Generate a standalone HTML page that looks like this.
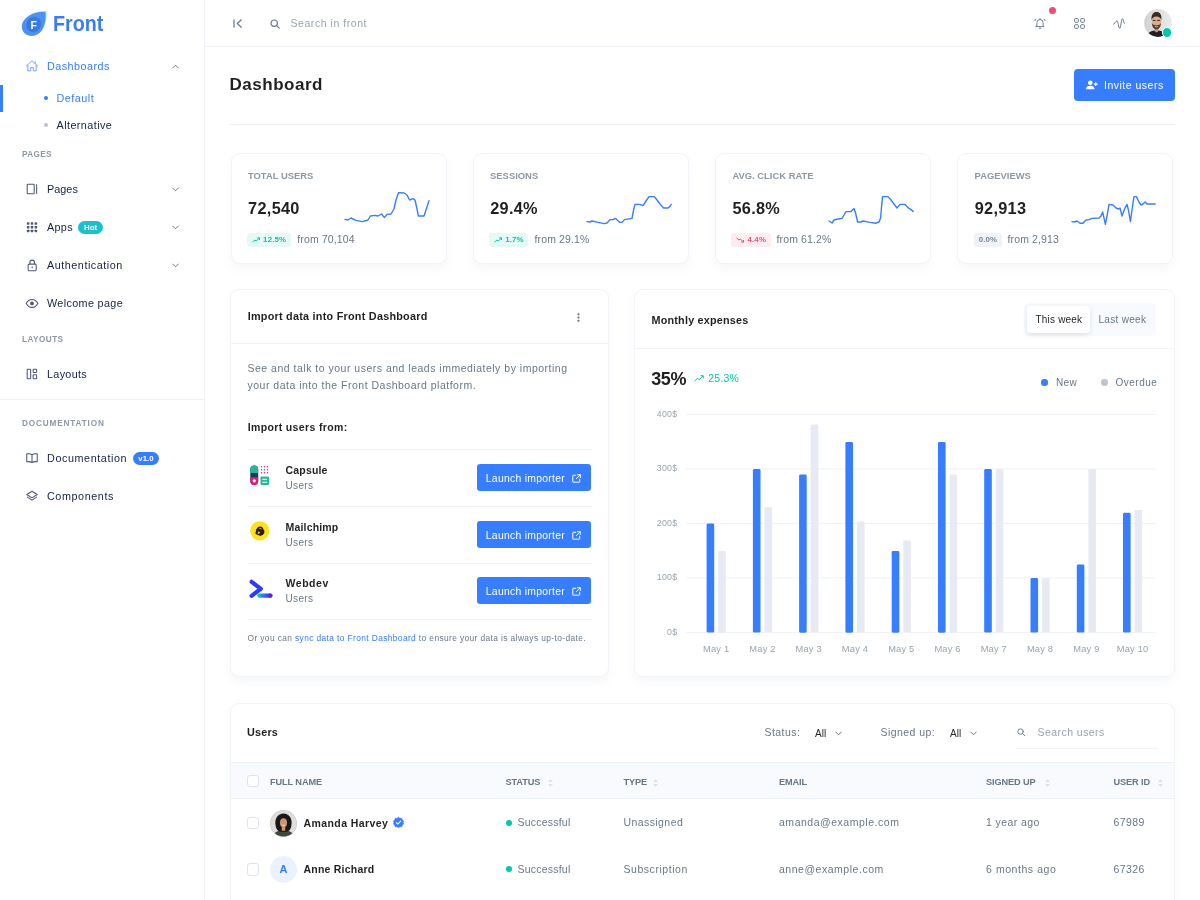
<!DOCTYPE html>
<html lang="en">
<head>
<meta charset="utf-8">
<title>Dashboard | Front - Admin &amp; Dashboard Template</title>
<style>
*{box-sizing:border-box}
html,body{margin:0;padding:0}
body{width:1200px;height:900px;overflow:hidden;background:#fff;font-family:"Liberation Sans",sans-serif;font-size:10.5px;color:#677788;position:relative;letter-spacing:.2px}
.a{position:absolute;white-space:nowrap}
svg{display:block;overflow:visible}
/* sidebar */
#aside{position:absolute;left:0;top:0;width:204.5px;height:900px;border-right:1px solid #f0f2f7;background:#fff}
.nl{position:absolute;left:47px;height:16px;line-height:16px;color:#132144;font-size:10.8px;white-space:nowrap}
.ni{position:absolute;left:25px;width:14px;height:14px;color:#132144;opacity:.75}
.sub{position:absolute;left:22px;font-size:8.2px;letter-spacing:.45px;color:#8c98a4;font-weight:bold;text-transform:uppercase;line-height:10px;height:10px}
.chev{position:absolute;left:171.5px;width:7px;height:5px}
.badge{display:inline-block;border-radius:10px;color:#fff;font-weight:bold;font-size:7.8px;line-height:13px;height:13px;padding:0 5.700px;vertical-align:1px;margin-left:5.500px;letter-spacing:0}
/* header */
#header{position:absolute;left:205px;top:0;width:995px;height:46.5px;border-bottom:1px solid #f0f2f7;background:#fff}

/* header icons */
.hi{position:absolute;color:#677788}
/* page */
.card{position:absolute;background:#fff;border:1px solid #f1f3f8;border-radius:9px;box-shadow:0 4.500px 9px rgba(140,152,164,.075)}
.cs{position:absolute;left:16.200px;top:16px;font-size:9.400px;font-weight:bold;letter-spacing:.02px;color:#8c98a4;text-transform:uppercase;line-height:11px;white-space:nowrap}
.cv{position:absolute;left:16.300px;top:43.300px;font-size:16.300px;font-weight:bold;color:#1e2022;line-height:22px;letter-spacing:.3px;white-space:nowrap}
.cb{position:absolute;left:15.300px;top:78.500px;height:14px;line-height:14px;border-radius:3px;font-size:7.900px;font-weight:bold;padding:0 4.500px 0 5px;white-space:nowrap;letter-spacing:.15px}
.cb svg{display:inline-block;vertical-align:-1px;margin-right:3px}
.cf{position:absolute;top:76.700px;line-height:16px;font-size:10.500px;color:#677788;white-space:nowrap;letter-spacing:.12px}
.soft-success{background:#e5f9f6;color:#00c9a7}
.soft-danger{background:#fdedf1;color:#ed4c78}
.soft-secondary{background:#f0f2f5;color:#71869d}
.btn{position:absolute;background:#377dff;color:#fff;border-radius:4px;white-space:nowrap}

.ct{position:absolute;font-weight:bold;color:#1e2022;white-space:nowrap;line-height:16px}
.hr{position:absolute;height:1px;background:#e7eaf3;opacity:.62}
.imp-t{position:absolute;left:54.500px;font-weight:bold;color:#1e2022;font-size:10.500px;line-height:14px;letter-spacing:.18px;white-space:nowrap}
.imp-s{position:absolute;left:54.500px;color:#677788;font-size:10px;line-height:14px;letter-spacing:.35px;white-space:nowrap}
.lbtn{position:absolute;left:245.500px;width:114.800px;height:27.200px;background:#377dff;border-radius:3.200px;color:#fff}
.lbtn span{position:absolute;left:9.300px;top:6.700px;line-height:16px;font-size:10.400px;letter-spacing:.27px;white-space:nowrap}
.lbtn svg{position:absolute;left:95.300px;top:9.500px}

.yl{position:absolute;left:20px;width:22.500px;text-align:right;font-size:8.800px;line-height:10px;color:#97a4af;letter-spacing:.3px}
.xl{position:absolute;top:352.600px;width:46px;text-align:center;font-size:9.300px;line-height:12px;color:#97a4af;letter-spacing:.2px;white-space:nowrap}
.th{position:absolute;top:71.800px;font-size:9.200px;font-weight:bold;letter-spacing:-.1px;color:#677788;text-transform:uppercase;line-height:12px;white-space:nowrap}
.td{position:absolute;font-size:10.500px;line-height:16px;color:#677788;white-space:nowrap;letter-spacing:.42px}
.cbx{position:absolute;left:15.500px;width:12.500px;height:12.500px;border:1px solid #dfe3ee;border-radius:3px;background:#fff}
.sort{position:absolute;top:75px}
</style>
</head>
<body>
<aside id="aside">
  <!-- logo -->
  <svg class="a" style="left:21px;top:10px" width="26" height="27" viewBox="0 0 26 27">
    <path d="M25.300 1 C26 5.500 25.300 12.500 22.800 17.500 C20.300 22.500 16 25 11.500 25 C6 25 2 21.500 2 16 C2 10 7 5.500 13 3 C17 1.300 21.500 .6 25.300 1Z" fill="#6fdcf2" opacity=".75"/>
    <path d="M24.300 2.300 C25 6.500 24.500 13.300 22 18.300 C19.500 23.300 15.300 26 10.800 26 C5.300 26 .8 22.300 .8 16.800 C.8 10.800 5.800 6.300 11.800 3.800 C15.800 2.100 20.500 1.800 24.300 2.300Z" fill="#4c92f3"/>
    <ellipse cx="12.700" cy="14.600" rx="7.200" ry="7.900" transform="rotate(28 12.700 14.600)" fill="#3a79e2"/>
    <text x="12.900" y="18.500" font-family="Liberation Sans, sans-serif" font-weight="bold" font-size="10.500" fill="#fff" text-anchor="middle">F</text>
  </svg>
  <div class="a" style="left:52.500px;top:10px;font-size:22.500px;line-height:27px;font-weight:bold;color:#3b7cf0;letter-spacing:0;transform:scaleX(.875);transform-origin:0 50%">Front</div>

  <!-- Dashboards -->
  <svg class="ni" style="top:58.500px;color:#377dff;opacity:.75" viewBox="0 0 16 16" fill="none" stroke="currentColor" stroke-width="1.050" stroke-linejoin="round" stroke-linecap="round"><path d="M1.500 8.200 L8 2 L14.500 8.200"/><path d="M3.200 7 V13.600 H6.500 V9.800 H9.500 V13.600 H12.800 V7"/><path d="M11.700 3.200 V5.300"/></svg>
  <div class="nl" style="top:58px;color:#377dff;letter-spacing:0.47px">Dashboards</div>
  <svg class="chev" style="top:63.500px" viewBox="0 0 7 5" fill="none" stroke="#677788" stroke-width="1"><path d="M.5 4.200 L3.500 1.200 L6.500 4.200"/></svg>
  <div class="a" style="left:0;top:85px;width:2.500px;height:26.500px;background:#377dff"></div>
  <div class="a" style="left:44.400px;top:96.400px;width:4px;height:4px;border-radius:50%;background:#377dff"></div>
  <div class="nl" style="left:56.500px;top:90px;color:#377dff;letter-spacing:0.50px">Default</div>
  <div class="a" style="left:44.400px;top:123.100px;width:4px;height:4px;border-radius:50%;background:#bdc5d1"></div>
  <div class="nl" style="left:56.500px;top:117px;letter-spacing:0.43px">Alternative</div>

  <div class="sub" style="top:150px;letter-spacing:.35px">Pages</div>

  <svg class="ni" style="top:181.500px" viewBox="0 0 16 16" fill="none" stroke="currentColor" stroke-width="1.200"><rect x="2.500" y="2.500" width="8" height="11" rx="1"/><path d="M13.300 3 V13" stroke-linecap="round"/></svg>
  <div class="nl" style="top:181px;letter-spacing:.05px">Pages</div>
  <svg class="chev" style="top:187px" viewBox="0 0 7 5" fill="none" stroke="#677788" stroke-width="1"><path d="M.5 .8 L3.500 3.800 L6.500 .8"/></svg>

  <svg class="ni" style="top:219.500px" viewBox="0 0 16 16" fill="currentColor"><g><rect x="2.200" y="2.500" width="2.800" height="2.800" rx=".5"/><rect x="6.600" y="2.500" width="2.800" height="2.800" rx=".5"/><rect x="11" y="2.500" width="2.800" height="2.800" rx=".5"/><rect x="2.200" y="6.800" width="2.800" height="2.800" rx=".5"/><rect x="6.600" y="6.800" width="2.800" height="2.800" rx=".5"/><rect x="11" y="6.800" width="2.800" height="2.800" rx=".5"/><rect x="2.200" y="11.100" width="2.800" height="2.800" rx=".5"/><rect x="6.600" y="11.100" width="2.800" height="2.800" rx=".5"/><rect x="11" y="11.100" width="2.800" height="2.800" rx=".5"/></g></svg>
  <div class="nl" style="top:219px;letter-spacing:0.32px">Apps<span class="badge" style="background:#19c1cf">Hot</span></div>
  <svg class="chev" style="top:225px" viewBox="0 0 7 5" fill="none" stroke="#677788" stroke-width="1"><path d="M.5 .8 L3.500 3.800 L6.500 .8"/></svg>

  <svg class="ni" style="top:257.500px" viewBox="0 0 16 16" fill="none" stroke="currentColor" stroke-width="1.200"><rect x="3.600" y="7" width="9.200" height="7.500" rx="1.200"/><path d="M5.600 7 V5 a2.600 2.600 0 0 1 5.200 0 V7"/><circle cx="8.200" cy="10.700" r=".9" fill="currentColor" stroke="none"/></svg>
  <div class="nl" style="top:257px;letter-spacing:0.53px">Authentication</div>
  <svg class="chev" style="top:263px" viewBox="0 0 7 5" fill="none" stroke="#677788" stroke-width="1"><path d="M.5 .8 L3.500 3.800 L6.500 .8"/></svg>

  <svg class="ni" style="top:295.500px" viewBox="0 0 16 16" fill="none" stroke="currentColor" stroke-width="1.200"><path d="M1.300 8.500 C3 5.500 5.300 4 8 4 C10.700 4 13 5.500 14.700 8.500 C13 11.500 10.700 13 8 13 C5.300 13 3 11.500 1.300 8.500Z"/><circle cx="8" cy="8.500" r="2.100" fill="currentColor" stroke="none"/></svg>
  <div class="nl" style="top:295px;letter-spacing:0.35px">Welcome page</div>

  <div class="sub" style="top:335px">Layouts</div>

  <svg class="ni" style="top:366.500px" viewBox="0 0 16 16" fill="none" stroke="currentColor" stroke-width="1.200"><rect x="2.500" y="2.500" width="4" height="11" rx=".8"/><rect x="9.300" y="2.500" width="4" height="3.800" rx=".8"/><rect x="9.300" y="8.800" width="4" height="4.700" rx=".8"/></svg>
  <div class="nl" style="top:366px;letter-spacing:0.31px">Layouts</div>

  <div class="a" style="left:0;top:399px;width:204px;height:1px;background:#eef0f6"></div>

  <div class="sub" style="top:418.700px;letter-spacing:.86px">Documentation</div>

  <svg class="ni" style="top:450.500px" viewBox="0 0 16 16" fill="none" stroke="currentColor" stroke-width="1.200" stroke-linejoin="round"><path d="M8 4.300 C6.500 3.200 4 3 2 3.300 V12.300 C4 12 6.500 12.200 8 13.300 C9.500 12.200 12 12 14 12.300 V3.300 C12 3 9.500 3.200 8 4.300Z M8 4.300 V13.300"/></svg>
  <div class="nl" style="top:450px;letter-spacing:0.58px">Documentation<span class="badge" style="background:#377dff">v1.0</span></div>

  <svg class="ni" style="top:488.500px" viewBox="0 0 16 16" fill="none" stroke="currentColor" stroke-width="1.200" stroke-linejoin="round"><path d="M8 2.500 L14 6.300 L8 10.100 L2 6.300Z"/><path d="M2.800 9.300 L8 12.700 L13.200 9.300" stroke-linecap="round"/></svg>
  <div class="nl" style="top:488px;letter-spacing:0.57px">Components</div>
</aside>

<header id="header">
  <svg class="hi" style="left:28px;top:18.500px" width="10" height="9" viewBox="0 0 10 9" fill="none" stroke="#677788" stroke-width="1.200" stroke-linecap="round" stroke-linejoin="round"><path d="M1 .8 V8.200"/><path d="M8.300 .8 L4.300 4.500 L8.300 8.200"/></svg>
  <svg class="hi" style="left:64.500px;top:18.500px" width="10" height="10" viewBox="0 0 10 10" fill="none" stroke="#677788" stroke-width="1.200" stroke-linecap="round"><circle cx="4.200" cy="4.200" r="3.200"/><path d="M6.600 6.600 L9.200 9.200"/></svg>
  <div class="a" style="left:85.500px;top:15px;line-height:16px;font-size:10.500px;color:#97a4af;letter-spacing:.55px">Search in front</div>

  <svg class="hi" style="left:828.700px;top:17.300px" width="12" height="12" viewBox="0 0 12 12" fill="none" stroke="#677788" stroke-width=".95" stroke-linecap="round" stroke-linejoin="round"><path d="M2.900 8.500 V5.700 a3.100 3.100 0 0 1 6.200 0 V8.500 L10 9.600 H2Z"/><path d="M5.200 11.300 H6.800"/><path d="M6 1.500 V2.400"/><path d="M.9 3.700 L1.800 2.300 M11.100 3.700 L10.200 2.300"/></svg>
  <div class="a" style="left:843.900px;top:6.600px;width:7.300px;height:7.300px;border-radius:50%;background:#ed4c78"></div>
  <svg class="hi" style="left:868.500px;top:18px" width="11" height="11" viewBox="0 0 11 11" fill="none" stroke="#677788" stroke-width="1"><rect x=".6" y=".6" width="3.700" height="3.700" rx=".8"/><rect x="6.700" y=".6" width="3.700" height="3.700" rx=".8"/><rect x=".6" y="6.700" width="3.700" height="3.700" rx=".8"/><rect x="6.700" y="6.700" width="3.700" height="3.700" rx=".8"/></svg>
  <svg class="hi" style="left:907.800px;top:17.800px" width="12" height="11" viewBox="0 0 12 11" fill="none" stroke="#677788" stroke-width="1" stroke-linecap="round" stroke-linejoin="round"><path d="M.6 6.300 C1.700 6.300 2.500 3 3.800 3 C5.300 3 5.400 10.300 6.700 10.300 C8 10.300 8.100 .8 9.400 .8 C10.400 .8 10.700 5.700 11.400 5.700"/></svg>
  <!-- avatar -->
  <svg class="a" style="left:939px;top:9px" width="28" height="28" viewBox="0 0 28 28">
    <defs><clipPath id="avc"><circle cx="14" cy="14" r="13.900"/></clipPath>
    <linearGradient id="avbg" x1="0" y1="0" x2="1" y2="0"><stop offset="0" stop-color="#d2d2d3"/><stop offset="1" stop-color="#ebebec"/></linearGradient></defs>
    <g clip-path="url(#avc)">
      <rect width="28" height="28" fill="url(#avbg)"/>
      <path d="M2.500 28 C3.500 23.300 7.500 21.600 12.500 21.600 C17.500 21.600 21.500 23.300 22.500 28Z" fill="#1f2025"/>
      <path d="M10.600 18 H14.400 V22.300 L12.500 23.500 L10.600 22.300Z" fill="#c9977a"/>
      <ellipse cx="12.400" cy="12.600" rx="4.700" ry="6.100" fill="#dcae91"/>
      <path d="M7.600 11.300 C6.900 5.600 9.500 3 12.600 3 C15.800 3 18.100 5.600 17.300 11.300 C16.700 8.500 15 7.400 12.400 7.400 C10 7.400 8.300 8.500 7.600 11.300Z" fill="#3b2a22"/>
      <path d="M7.800 13.800 C8 18.600 10 20.400 12.400 20.400 C14.800 20.400 16.800 18.600 17 13.800 C16.200 16 14.800 16.200 12.400 16.200 C10 16.200 8.600 16 7.800 13.800Z" fill="#5b4232"/>
      <path d="M8.700 11.400 H11.600 M13.200 11.400 H16.100" stroke="#3a302c" stroke-width="1"/>
      <path d="M10.900 17.200 C11.800 17.900 13 17.900 13.900 17.200" stroke="#f4e9e2" stroke-width=".8" fill="none"/>
    </g>
  </svg>
  <div class="a" style="left:956.800px;top:27.200px;width:10.400px;height:10.400px;border-radius:50%;background:#00c9a7;border:1.500px solid #fff"></div>
</header>

<main>
  <div class="a" style="left:229.500px;top:73px;font-size:17px;line-height:24px;font-weight:bold;color:#1e2022;letter-spacing:.52px">Dashboard</div>
  <div class="btn" style="left:1074px;top:69px;width:101px;height:32px">
    <svg class="a" style="left:12px;top:11px" width="12" height="10" viewBox="0 0 12 10" fill="#fff"><circle cx="4.300" cy="2.700" r="2.300"/><path d="M0 9.300 C0 6.800 1.800 5.700 4.300 5.700 C6.800 5.700 8.600 6.800 8.600 9.300Z"/><path d="M9.700 2.200 V6 M7.800 4.100 H11.600" stroke="#fff" stroke-width="1.100" fill="none"/></svg>
    <div class="a" style="left:30px;top:8px;line-height:16px;font-size:10.500px;letter-spacing:.5px">Invite users</div>
  </div>
  <div class="a" style="left:230px;top:123.500px;width:945px;height:1px;background:#e7eaf3;opacity:.8"></div>

  <!-- stat cards -->
  <div class="card" style="left:230.800px;top:153px;width:216px;height:111px">
    <div class="cs">Total users</div>
    <div class="cv">72,540</div>
    <div class="cb soft-success"><svg width="8" height="6" viewBox="0 0 8 6" fill="none" stroke="currentColor" stroke-width="1"><path d="M.5 5.300 L2.800 3 L4.300 4 L7.300 1 M5.300 .8 H7.500 V3"/></svg>12.5%</div>
    <div class="cf" style="left:65.500px">from 70,104</div>
  </div>
  <div class="card" style="left:472.900px;top:153px;width:216px;height:111px">
    <div class="cs">Sessions</div>
    <div class="cv">29.4%</div>
    <div class="cb soft-success"><svg width="8" height="6" viewBox="0 0 8 6" fill="none" stroke="currentColor" stroke-width="1"><path d="M.5 5.300 L2.800 3 L4.300 4 L7.300 1 M5.300 .8 H7.500 V3"/></svg>1.7%</div>
    <div class="cf" style="left:60.700px">from 29.1%</div>
  </div>
  <div class="card" style="left:715.200px;top:153px;width:216px;height:111px">
    <div class="cs">Avg. click rate</div>
    <div class="cv">56.8%</div>
    <div class="cb soft-danger"><svg width="8" height="6" viewBox="0 0 8 6" fill="none" stroke="currentColor" stroke-width="1"><path d="M.5 .7 L2.800 3 L4.300 2 L7.300 5 M5.300 5.200 H7.500 V3"/></svg>4.4%</div>
    <div class="cf" style="left:60.400px">from 61.2%</div>
  </div>
  <div class="card" style="left:957.400px;top:153px;width:216px;height:111px">
    <div class="cs">Pageviews</div>
    <div class="cv">92,913</div>
    <div class="cb soft-secondary">0.0%</div>
    <div class="cf" style="left:49.200px">from 2,913</div>
  </div>
  <svg class="a" style="left:0;top:0;pointer-events:none" width="1200" height="300" viewBox="0 0 1200 300" fill="none" stroke="#377dff" stroke-width="1.400" stroke-linejoin="round" stroke-linecap="round">
    <path d="M345.0 219.4 L348.0 220.0 L351.0 218.0 L356.0 220.4 L362.4 221.6 L368.0 220.0 L370.4 216.0 L375.0 215.4 L378.0 216.0 L381.6 214.0 L384.4 217.6 L387.0 214.4 L391.0 214.0 L394.0 209.0 L396.0 200.0 L398.6 192.6 L404.0 193.0 L407.0 195.0 L409.6 200.0 L413.0 198.6 L415.0 200.0 L417.0 209.0 L418.4 216.0 L424.0 216.0 L426.0 210.0 L429.0 200.6"/>
    <path d="M587.0 221.6 L590.0 222.0 L592.0 221.0 L598.0 222.4 L604.4 223.6 L607.0 223.0 L610.0 219.6 L613.0 219.6 L615.6 218.4 L620.0 222.4 L622.0 222.4 L624.4 219.6 L632.0 218.4 L633.6 210.0 L635.0 204.4 L640.0 204.4 L643.0 205.6 L646.0 201.0 L649.0 196.6 L654.4 196.6 L657.0 200.0 L660.0 204.0 L663.6 208.0 L668.0 208.0 L670.0 206.4 L671.2 204.4"/>
    <path d="M829.0 221.0 L832.0 223.0 L834.0 220.0 L838.0 219.0 L842.0 218.4 L844.0 215.0 L846.0 211.6 L851.0 211.6 L854.0 208.4 L855.6 213.0 L857.6 222.0 L861.0 222.0 L863.0 221.0 L870.0 222.4 L876.0 223.2 L879.0 222.0 L880.6 218.0 L881.6 206.0 L882.6 196.6 L888.0 196.6 L891.0 200.0 L894.0 204.0 L897.0 208.0 L900.0 204.4 L905.0 204.4 L908.0 207.6 L911.0 209.6 L913.2 211.4"/>
    <path d="M1072.0 221.6 L1075.0 222.0 L1077.0 221.0 L1080.0 223.2 L1083.0 223.2 L1086.0 220.0 L1089.0 219.6 L1092.0 218.4 L1099.0 218.0 L1101.0 216.0 L1102.6 212.0 L1104.0 218.0 L1105.4 224.4 L1107.0 216.0 L1109.0 204.4 L1113.0 205.0 L1116.0 208.0 L1118.4 209.0 L1120.0 208.0 L1122.0 216.0 L1125.0 208.0 L1127.0 204.4 L1128.4 210.0 L1130.4 221.6 L1132.0 210.0 L1134.0 196.6 L1136.4 196.6 L1139.0 202.0 L1141.0 205.0 L1143.0 204.0 L1145.0 202.0 L1147.0 204.0 L1155.2 204.0"/>
  </svg>
  <!-- import card -->
  <div class="card" style="left:230px;top:289px;width:379px;height:388px">
    <div class="ct" style="left:16.700px;top:18.300px;font-size:10.800px;letter-spacing:.26px">Import data into Front Dashboard</div>
    <svg class="a" style="left:345.500px;top:22.500px" width="3" height="9" viewBox="0 0 3 9" fill="#677788"><rect x=".5" y=".3" width="2" height="2" rx=".6"/><rect x=".5" y="3.500" width="2" height="2" rx=".6"/><rect x=".5" y="6.700" width="2" height="2" rx=".6"/></svg>
    <div class="hr" style="left:0;top:53px;width:376.500px"></div>
    <div class="a" style="left:16.500px;top:69.500px;line-height:17.300px;font-size:10.500px;letter-spacing:.5px;color:#677788;white-space:normal;width:345px">See and talk to your users and leads immediately by importing your data into the Front Dashboard platform.</div>
    <div class="ct" style="left:16.700px;top:128.800px;font-size:10.500px;letter-spacing:.36px">Import users from:</div>
    <div class="hr" style="left:16.500px;top:159px;width:344.500px"></div>

    <!-- capsule -->
    <svg class="a" style="left:18px;top:175px" width="23" height="21" viewBox="0 0 23 21">
      <rect x="1.300" y=".5" width="7.900" height="19.500" rx="3.950" fill="#1d3a5f"/>
      <path d="M1.300 4.450 a3.950 3.950 0 0 1 7.900 0 V8 H1.300Z" fill="#2bb598"/>
      <path d="M1.300 12.300 H9.200 V16.050 a3.950 3.950 0 0 1 -7.900 0Z" fill="#d6227a"/>
      <circle cx="5.250" cy="15.800" r="1.600" fill="#fff"/>
      <g fill="#d6227a"><circle cx="12.500" cy="1.800" r=".75"/><circle cx="15.500" cy="1.800" r=".75"/><circle cx="18.500" cy="1.800" r=".75"/><circle cx="12.500" cy="4.800" r=".75"/><circle cx="15.500" cy="4.800" r=".75"/><circle cx="18.500" cy="4.800" r=".75"/><circle cx="12.500" cy="7.800" r=".75"/><circle cx="15.500" cy="7.800" r=".75"/><circle cx="18.500" cy="7.800" r=".75"/></g>
      <rect x="11.500" y="11.500" width="8.500" height="8.500" rx="1" fill="#2bb598"/>
      <path d="M13.300 14.300 H18.200 M13.300 17.200 H18.200" stroke="#fff" stroke-width="1"/>
    </svg>
    <div class="imp-t" style="top:173px">Capsule</div>
    <div class="imp-s" style="top:189.300px">Users</div>
    <div class="lbtn" style="top:174px"><span>Launch importer</span><svg width="9" height="9" viewBox="0 0 9 9" fill="none" stroke="#fff" stroke-width="1" stroke-linecap="round" stroke-linejoin="round"><path d="M3.800 1.300 H1.300 a.5 .5 0 0 0 -.5 .5 V7.700 a.5 .5 0 0 0 .5 .5 H7.200 a.5 .5 0 0 0 .5 -.5 V5.200"/><path d="M5.500 .7 H8.300 V3.500 M8.100 .9 L4.300 4.700"/></svg></div>
    <div class="hr" style="left:16.500px;top:216px;width:344.500px"></div>

    <!-- mailchimp -->
    <svg class="a" style="left:19.300px;top:231.200px" width="19.600" height="19.600" viewBox="0 0 21 21">
      <circle cx="10.500" cy="10.500" r="10.300" fill="#ffe01b"/>
      <path d="M7.500 14.500 C5.800 14.300 5.300 12.800 6.300 11.800 C5.800 9 8 6 10.800 5.800 C13 5.700 14.300 7.300 14.300 9 C15.300 9.500 15.600 10.500 15.300 11.500 C15.600 12.300 15.300 13.300 14.500 14 C13.500 15.500 11.500 16 9.800 15.500 C8.800 15.300 8 15 7.500 14.500Z" fill="#241c15"/>
      <path d="M9.300 8.500 C10.500 7.300 12.300 7.500 12.800 9 C11.800 8.500 10.500 8.700 9.300 8.500Z M8.300 12 C9 11 10.300 11.200 10.500 12.300 C10.700 13.300 9.500 14 8.500 13.300Z" fill="#ffe01b"/>
    </svg>
    <div class="imp-t" style="top:230px">Mailchimp</div>
    <div class="imp-s" style="top:245.800px">Users</div>
    <div class="lbtn" style="top:231px"><span>Launch importer</span><svg width="9" height="9" viewBox="0 0 9 9" fill="none" stroke="#fff" stroke-width="1" stroke-linecap="round" stroke-linejoin="round"><path d="M3.800 1.300 H1.300 a.5 .5 0 0 0 -.5 .5 V7.700 a.5 .5 0 0 0 .5 .5 H7.200 a.5 .5 0 0 0 .5 -.5 V5.200"/><path d="M5.500 .7 H8.300 V3.500 M8.100 .9 L4.300 4.700"/></svg></div>
    <div class="hr" style="left:16.500px;top:273px;width:344.500px"></div>

    <!-- webdev -->
    <svg class="a" style="left:17px;top:288px" width="26" height="22" viewBox="0 0 26 22">
      <defs><linearGradient id="wg" gradientUnits="userSpaceOnUse" x1="10" y1="0" x2="24" y2="0"><stop offset="0" stop-color="#19c1cf"/><stop offset=".55" stop-color="#3b5bf0"/><stop offset=".8" stop-color="#3740ff"/><stop offset="1" stop-color="#7a1fd0"/></linearGradient></defs>
      <path d="M3.600 3.800 L12.800 10.800 L3.600 17.800" fill="none" stroke="#2a3cf5" stroke-width="4.200" stroke-linecap="round" stroke-linejoin="round"/>
      <path d="M11.500 17.600 H22.300" stroke="url(#wg)" stroke-width="4.400" stroke-linecap="round"/>
      <circle cx="22.300" cy="17.600" r="2.200" fill="#6a1fd0"/>
    </svg>
    <div class="imp-t" style="top:285.600px;letter-spacing:.55px">Webdev</div>
    <div class="imp-s" style="top:302.300px">Users</div>
    <div class="lbtn" style="top:287.200px"><span>Launch importer</span><svg width="9" height="9" viewBox="0 0 9 9" fill="none" stroke="#fff" stroke-width="1" stroke-linecap="round" stroke-linejoin="round"><path d="M3.800 1.300 H1.300 a.5 .5 0 0 0 -.5 .5 V7.700 a.5 .5 0 0 0 .5 .5 H7.200 a.5 .5 0 0 0 .5 -.5 V5.200"/><path d="M5.500 .7 H8.300 V3.500 M8.100 .9 L4.300 4.700"/></svg></div>
    <div class="hr" style="left:16.500px;top:329px;width:344.500px"></div>

    <div class="a" style="left:16.500px;top:341px;line-height:14px;font-size:8.400px;letter-spacing:.385px;color:#677788">Or you can <span style="color:#377dff">sync data to Front Dashboard</span> to ensure your data is always up-to-date.</div>
  </div>
  <!-- chart card -->
  <div class="card" style="left:634px;top:289px;width:541px;height:388px">
    <div class="ct" style="left:16.500px;top:21.500px;font-size:10.800px;letter-spacing:.21px">Monthly expenses</div>
    <div class="a" style="left:389px;top:13px;width:132px;height:32.700px;border-radius:5px;background:#f8fafd"></div>
    <div class="a" style="left:392px;top:16px;width:63px;height:27px;border-radius:4px;background:#fff;box-shadow:0 2px 5px rgba(140,152,164,.25)"></div>
    <div class="a" style="left:400.500px;top:21.500px;line-height:16px;font-size:10px;color:#1e2022;letter-spacing:.2px">This week</div>
    <div class="a" style="left:463.500px;top:21.500px;line-height:16px;font-size:10px;color:#677788;letter-spacing:.3px">Last week</div>
    <div class="hr" style="left:0;top:57.800px;width:539px"></div>
    <div class="a" style="left:16.300px;top:78px;font-size:18px;line-height:22px;font-weight:bold;color:#1e2022;letter-spacing:-.45px">35%</div>
    <svg class="a" style="left:59px;top:84.500px" width="10" height="7" viewBox="0 0 10 7" fill="none" stroke="#00c9a7" stroke-width="1"><path d="M.5 6.300 L3.500 3.300 L5.300 4.600 L9 1 M6.500 .7 H9.300 V3.400"/></svg>
    <div class="a" style="left:73.300px;top:79.800px;font-size:10.500px;line-height:16px;color:#00c9a7;letter-spacing:.2px">25.3%</div>
    <div class="a" style="left:406.400px;top:89.300px;width:6.600px;height:6.600px;border-radius:50%;background:#377dff"></div>
    <div class="a" style="left:421px;top:84.500px;font-size:10px;line-height:16px;color:#677788;letter-spacing:.3px">New</div>
    <div class="a" style="left:466px;top:89.300px;width:6.600px;height:6.600px;border-radius:50%;background:#bdc5d1"></div>
    <div class="a" style="left:480.500px;top:84.500px;font-size:10px;line-height:16px;color:#677788;letter-spacing:.5px">Overdue</div>
    <svg class="a" style="left:0;top:0" width="539" height="386" viewBox="0 0 539 386">
      <path d="M51 124.4 H520.500" stroke="#e7eaf3" stroke-width="1" opacity=".65"/><path d="M51 178.9 H520.500" stroke="#e7eaf3" stroke-width="1" opacity=".65"/><path d="M51 233.4 H520.500" stroke="#e7eaf3" stroke-width="1" opacity=".65"/><path d="M51 287.9 H520.500" stroke="#e7eaf3" stroke-width="1" opacity=".65"/><path d="M51 342.4 H520.500" stroke="#e7eaf3" stroke-width="1" opacity=".65"/>
      <rect x="71.6" y="233.6" width="7.600" height="109.0" rx="1.400" fill="#377dff"/><rect x="83.2" y="260.9" width="7.600" height="81.8" rx="1.400" fill="#e7eaf3"/>
      <rect x="117.9" y="179.1" width="7.600" height="163.5" rx="1.400" fill="#377dff"/><rect x="129.5" y="217.2" width="7.600" height="125.4" rx="1.400" fill="#e7eaf3"/>
      <rect x="164.1" y="184.6" width="7.600" height="158.1" rx="1.400" fill="#377dff"/><rect x="175.7" y="134.4" width="7.600" height="208.2" rx="1.400" fill="#e7eaf3"/>
      <rect x="210.4" y="151.9" width="7.600" height="190.8" rx="1.400" fill="#377dff"/><rect x="222.0" y="231.4" width="7.600" height="111.2" rx="1.400" fill="#e7eaf3"/>
      <rect x="256.7" y="260.9" width="7.600" height="81.8" rx="1.400" fill="#377dff"/><rect x="268.3" y="250.5" width="7.600" height="92.1" rx="1.400" fill="#e7eaf3"/>
      <rect x="303.0" y="151.9" width="7.600" height="190.8" rx="1.400" fill="#377dff"/><rect x="314.6" y="184.6" width="7.600" height="158.1" rx="1.400" fill="#e7eaf3"/>
      <rect x="349.2" y="179.1" width="7.600" height="163.5" rx="1.400" fill="#377dff"/><rect x="360.8" y="179.1" width="7.600" height="163.5" rx="1.400" fill="#e7eaf3"/>
      <rect x="395.5" y="288.1" width="7.600" height="54.5" rx="1.400" fill="#377dff"/><rect x="407.1" y="288.1" width="7.600" height="54.5" rx="1.400" fill="#e7eaf3"/>
      <rect x="441.8" y="274.5" width="7.600" height="68.1" rx="1.400" fill="#377dff"/><rect x="453.4" y="179.1" width="7.600" height="163.5" rx="1.400" fill="#e7eaf3"/>
      <rect x="488.0" y="222.7" width="7.600" height="119.9" rx="1.400" fill="#377dff"/><rect x="499.6" y="220.0" width="7.600" height="122.6" rx="1.400" fill="#e7eaf3"/>
      
    </svg>
    <div class="yl" style="top:118.9px">400$</div><div class="yl" style="top:173.4px">300$</div><div class="yl" style="top:227.9px">200$</div><div class="yl" style="top:282.4px">100$</div><div class="yl" style="top:336.9px">0$</div>
    <div class="xl" style="left:58.2px">May 1</div><div class="xl" style="left:104.5px">May 2</div><div class="xl" style="left:150.7px">May 3</div><div class="xl" style="left:197.0px">May 4</div><div class="xl" style="left:243.3px">May 5</div><div class="xl" style="left:289.6px">May 6</div><div class="xl" style="left:335.8px">May 7</div><div class="xl" style="left:382.1px">May 8</div><div class="xl" style="left:428.4px">May 9</div><div class="xl" style="left:474.6px">May 10</div>
  </div>
  <!-- users card -->
  <div class="card" style="left:230px;top:703px;width:945px;height:260px;border-bottom-left-radius:0;border-bottom-right-radius:0">
    <div class="ct" style="left:16px;top:20px;font-size:10.800px;letter-spacing:.2px">Users</div>
    <div class="td" style="left:533.500px;top:19.700px;letter-spacing:.45px">Status:</div>
    <div class="td" style="left:584px;top:21.600px;color:#1e2022;font-size:10px;letter-spacing:0">All</div>
    <svg class="a" style="left:603.500px;top:26.700px" width="7" height="5" viewBox="0 0 7 5" fill="none" stroke="#677788" stroke-width="1"><path d="M.5 .8 L3.500 3.800 L6.500 .8"/></svg>
    <div class="td" style="left:649.500px;top:19.700px;letter-spacing:.45px">Signed up:</div>
    <div class="td" style="left:719px;top:21.600px;color:#1e2022;font-size:10px;letter-spacing:0">All</div>
    <svg class="a" style="left:738.500px;top:26.700px" width="7" height="5" viewBox="0 0 7 5" fill="none" stroke="#677788" stroke-width="1"><path d="M.5 .8 L3.500 3.800 L6.500 .8"/></svg>
    <svg class="a" style="left:786px;top:24.300px" width="8.500" height="8.500" viewBox="0 0 10 10" fill="none" stroke="#677788" stroke-width="1.100" stroke-linecap="round"><circle cx="4.200" cy="4.200" r="3.200"/><path d="M6.600 6.600 L9.200 9.200"/></svg>
    <div class="td" style="left:806.500px;top:19.700px;color:#97a4af;letter-spacing:.45px">Search users</div>
    <div class="hr" style="left:784.500px;top:43.700px;width:142px"></div>

    <div class="a" style="left:0;top:57.700px;width:943px;height:37.600px;background:#f8fafd;border-top:1px solid rgba(231,234,243,.6);border-bottom:1px solid rgba(231,234,243,.6)"></div>
    <div class="cbx" style="top:70.800px"></div>
    <div class="th" style="left:39px">Full name</div>
    <div class="th" style="left:274.500px">Status</div><svg class="sort" style="left:317px" width="5" height="8" viewBox="0 0 5 8" fill="#dfe3ea"><path d="M2.500 0 L5 3 H0Z M2.500 8 L0 5 H5Z"/></svg>
    <div class="th" style="left:392.500px">Type</div><svg class="sort" style="left:422px" width="5" height="8" viewBox="0 0 5 8" fill="#dfe3ea"><path d="M2.500 0 L5 3 H0Z M2.500 8 L0 5 H5Z"/></svg>
    <div class="th" style="left:548px">Email</div>
    <div class="th" style="left:755px">Signed up</div><svg class="sort" style="left:813.500px" width="5" height="8" viewBox="0 0 5 8" fill="#dfe3ea"><path d="M2.500 0 L5 3 H0Z M2.500 8 L0 5 H5Z"/></svg>
    <div class="th" style="left:882.500px">User ID</div><svg class="sort" style="left:927px" width="5" height="8" viewBox="0 0 5 8" fill="#dfe3ea"><path d="M2.500 0 L5 3 H0Z M2.500 8 L0 5 H5Z"/></svg>

    <div class="cbx" style="top:112.800px"></div>
    <svg class="a" style="left:39px;top:105.500px" width="27" height="27" viewBox="0 0 28 28">
      <defs><clipPath id="av2"><circle cx="14" cy="14" r="13.500"/></clipPath></defs>
      <circle cx="14" cy="14" r="14" fill="#c9c9c9"/>
      <g clip-path="url(#av2)">
        <rect width="28" height="28" fill="#dedede"/>
        <path d="M3 28 C4 22.500 9 21 14 21 C19 21 24 22.500 25 28Z" fill="#3c4a3a"/>
        <path d="M6 17 C4 8.500 8.500 3.500 14 3.500 C19.500 3.500 24 8.500 22 17 C21 22 18 22.500 14 22.500 C10 22.500 7 22 6 17Z" fill="#1a1716"/>
        <ellipse cx="14" cy="13.300" rx="3.700" ry="4.700" fill="#c99572"/>
        <path d="M12.200 17 H15.800 V21.500 H12.200Z" fill="#c99572"/>
        <path d="M12.300 15.200 C13.300 16.200 14.700 16.200 15.700 15.200" stroke="#fff" stroke-width=".7" fill="none"/>
      </g>
    </svg>
    <div class="td" style="left:72.500px;top:110.500px;font-weight:bold;color:#1e2022;letter-spacing:.41px">Amanda Harvey</div>
    <svg class="a" style="left:162.300px;top:113px" width="11" height="11" viewBox="0 0 12 12"><path d="M6 .3 L7.600 1.300 L9.500 1.300 L10.100 3.100 L11.600 4.300 L11 6 L11.600 7.700 L10.100 8.900 L9.500 10.700 L7.600 10.700 L6 11.700 L4.400 10.700 L2.500 10.700 L1.900 8.900 L.4 7.700 L1 6 L.4 4.300 L1.900 3.100 L2.500 1.300 L4.400 1.300Z" fill="#377dff" stroke="#377dff" stroke-width=".6" stroke-linejoin="round"/><path d="M3.700 6.100 L5.300 7.700 L8.400 4.500" fill="none" stroke="#fff" stroke-width="1.200" stroke-linecap="round" stroke-linejoin="round"/></svg>
    <div class="a" style="left:274.500px;top:116px;width:6px;height:6px;border-radius:50%;background:#00c9a7"></div>
    <div class="td" style="left:286.500px;top:110.200px;letter-spacing:.22px">Successful</div>
    <div class="td" style="left:392.500px;top:110.200px">Unassigned</div>
    <div class="td" style="left:548px;top:110.200px;letter-spacing:.52px">amanda@example.com</div>
    <div class="td" style="left:755px;top:110.200px">1 year ago</div>
    <div class="td" style="left:882.500px;top:110.200px">67989</div>

    <div class="cbx" style="top:159.300px"></div>
    <div class="a" style="left:39px;top:152px;width:27px;height:27px;border-radius:50%;background:#ebf2ff;color:#377dff;font-weight:bold;font-size:11px;line-height:27px;text-align:center;letter-spacing:0">A</div>
    <div class="td" style="left:72.500px;top:156.900px;font-weight:bold;color:#1e2022;letter-spacing:.22px">Anne Richard</div>
    <div class="a" style="left:274.500px;top:162.300px;width:6px;height:6px;border-radius:50%;background:#00c9a7"></div>
    <div class="td" style="left:286.500px;top:156.500px;letter-spacing:.22px">Successful</div>
    <div class="td" style="left:392.500px;top:156.500px;letter-spacing:.54px">Subscription</div>
    <div class="td" style="left:548px;top:156.500px;letter-spacing:.52px">anne@example.com</div>
    <div class="td" style="left:755px;top:156.500px;letter-spacing:.56px">6 months ago</div>
    <div class="td" style="left:882.500px;top:156.500px">67326</div>
  </div>
</main>
</body>
</html>
